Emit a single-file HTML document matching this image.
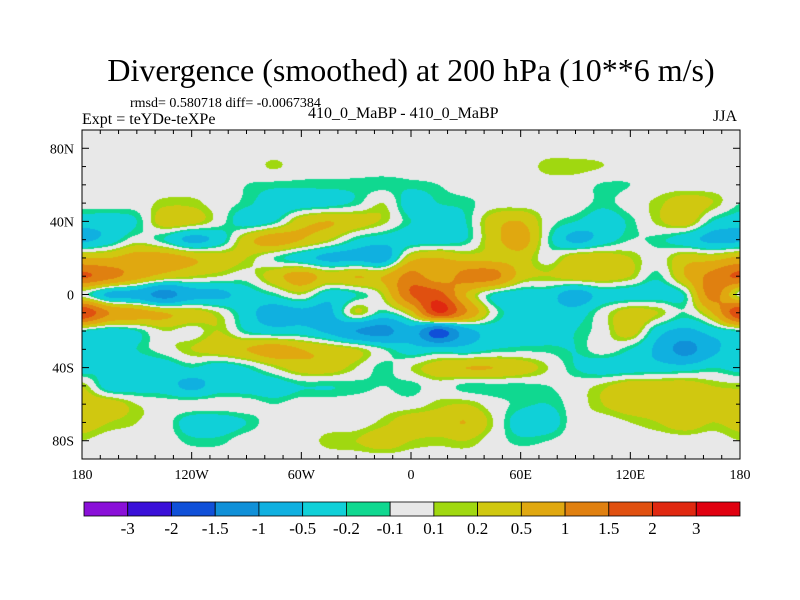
<!DOCTYPE html>
<html><head><meta charset="utf-8"><style>
body{margin:0;background:#fff;}
#wrap{position:relative;width:800px;height:600px;overflow:hidden;font-family:"Liberation Serif",serif;color:#000;}
.t{position:absolute;white-space:nowrap;}
</style></head><body>
<div id="wrap">
<div class="t" style="left:0;width:822px;text-align:center;top:52px;font-size:32px;">Divergence (smoothed) at 200 hPa (10**6 m/s)</div>
<div class="t" style="left:130px;top:96px;font-size:14px;">rmsd= 0.580718 diff= -0.0067384</div>
<div class="t" style="left:82px;top:111px;font-size:16px;">Expt = teYDe-teXPe</div>
<div class="t" style="left:308px;top:105px;font-size:16px;">410_0_MaBP - 410_0_MaBP</div>
<div class="t" style="left:713px;top:108px;font-size:16px;">JJA</div>
<canvas id="map" width="658" height="329" style="position:absolute;left:82px;top:130px;"></canvas>
<svg id="ov" width="800" height="600" style="position:absolute;left:0;top:0;"></svg>
</div>
<script>
const lonTicks=["180","120W","60W","0","60E","120E","180"];
const latTicks=["80N","40N","0","40S","80S"];
const latTickVals=[80,40,0,-40,-80];
const levels=[-3,-2,-1.5,-1,-0.5,-0.2,-0.1,0.1,0.2,0.5,1,1.5,2,3];
const levelLabels=["-3","-2","-1.5","-1","-0.5","-0.2","-0.1","0.1","0.2","0.5","1","1.5","2","3"];
const colors=["#8a10d8","#3a10d8","#1050d8","#1090d8","#10b0e0","#10d0d8","#10d890","#e8e8e8","#a0d810","#d0c810","#e0a810","#e08010","#e05010","#e02810","#e00010"];
// grid: rows lat 90..-90 step 10, cols lon -180..180 step 15
const r0=[0,0,0,0,0,0,0,0,0,0,0,0,0,0,0,0,0,0,0,0,0,0,0,0,0];
const r1=[0,0,0,0,0,0,0,0,0,0,0,0,0,0,0,0,0,0,0,0,0,0,0,0,0];
const r2=[0,0,0,0,0,0,0,0.12,0,0,0,0,0,0,0,0,0,0.15,0.15,0.1,0,0,0,0,0];
const r3=[0,0,0,0,0,0,-0.1,-0.15,-0.15,-0.15,-0.15,-0.15,-0.15,-0.1,0,0,0,0,0,-0.12,-0.1,0,0,0,0];
const r4=[0,0,0,0.15,0.15,0,-0.15,-0.35,-0.35,-0.3,-0.15,0.1,-0.35,-0.2,-0.15,0,0,0,0,-0.15,0,0.15,0.35,0.2,-0.1];
const r5=[-0.35,-0.35,-0.2,0.35,0.3,0,-0.35,-0.2,0.35,0.5,0.35,0.15,-0.2,-0.35,-0.2,0.35,0.5,0,-0.2,-0.35,-0.15,0.15,0.35,-0.2,-0.35];
const r6=[-0.6,-0.35,0,-0.2,-0.6,-0.35,0.35,0.7,0.5,0.2,-0.2,-0.35,-0.35,-0.35,-0.2,0.35,0.7,-0.1,-0.6,-0.35,-0.1,-0.15,-0.35,-0.6,-0.6];
const r7=[0.5,0.5,0.7,0.7,0.5,0.35,0.2,-0.1,-0.35,-0.6,-0.6,-0.7,0.35,0.5,0.35,0.35,0.35,0,0.35,0.35,0.2,0,0.35,0.35,0.6];
const r8=[1.6,1.2,0.7,0.35,0.2,0.1,0,0.35,0.7,0.35,0.5,0.5,1.2,0.7,1.2,1.2,0.35,0.2,0.35,0.35,0.2,-0.15,0.5,1.2,1.6];
const r9=[0,-0.6,-0.7,-1.2,-0.7,-0.6,-0.35,-0.15,0.1,-0.35,-0.2,0.2,1.5,1.7,0.5,-0.2,-0.35,-0.35,-0.7,-0.35,-0.35,-0.35,-0.15,1.2,0];
const r10=[2.0,1.0,0.7,0.5,0.35,0.1,-0.35,-0.7,-0.6,-0.6,0.2,-0.2,0.35,2.0,1.0,0,-0.35,-0.35,-0.35,0,0.35,0.2,-0.1,0.5,2.0];
const r11=[-0.2,-0.35,-0.2,0.1,0,0.2,-0.2,-0.35,-0.35,-0.6,-1.0,-1.2,-0.7,-1.7,-0.7,-0.35,-0.35,-0.35,-0.2,0,0.35,-0.35,-0.6,-0.35,-0.2];
const r12=[-0.35,-0.35,-0.2,0,0.2,0.35,0.5,0.7,0.5,0.35,0.2,-0.1,-0.35,-0.35,-0.35,-0.2,-0.15,-0.15,-0.2,0,-0.2,-0.6,-1.2,-0.6,-0.35];
const r13=[-0.35,-0.2,-0.35,-0.35,-0.2,-0.35,-0.2,0.1,0.35,0.35,0.1,-0.15,0.1,0.35,0.5,0.5,0.35,0.1,-0.2,-0.35,-0.35,-0.35,-0.35,-0.2,-0.3];
const r14=[0.2,-0.35,-0.35,-0.35,-0.6,-0.35,-0.35,-0.35,-0.2,-0.2,-0.15,-0.1,-0.15,0,-0.15,-0.15,-0.15,-0.1,0,0.15,0.35,0.35,0.35,0.2,0.15];
const r15=[0.35,0.35,0.1,0,0,0,0,-0.1,0,0,0,0,0,0.15,0.2,0,-0.15,-0.2,0,0.2,0.35,0.35,0.35,0.35,0.35];
const r16=[0.35,0.2,0.1,0,-0.35,-0.35,-0.2,0,0,0,0,0.15,0.35,0.35,0.5,0.1,-0.35,-0.35,0,0,0.1,0.2,0.35,0.2,0.3];
const r17=[0.1,0,0,0,-0.15,-0.15,0,0,0,0.15,0.2,0.35,0.2,0.15,0.2,0,-0.15,-0.1,0,0,0,0,0,0,0.1];
const r18=[0,0,0,0,0,0,0,0,0,0,0,0,0,0,0,0,0,0,0,0,0,0,0,0,0];
const grid=[r0,r1,r2,r3,r4,r5,r6,r7,r8,r9,r10,r11,r12,r13,r14,r15,r16,r17,r18];

const X0=82,X1=740,Y0=130,Y1=459;
function xOf(lon){return X0+(lon+180)/360*(X1-X0);}
function yOf(lat){return Y0+(90-lat)/180*(Y1-Y0);}
function colorOf(v){let k=0;while(k<levels.length&&v>=levels[k])k++;return colors[k];}
function cr(p0,p1,p2,p3,t){return 0.5*((2*p1)+(-p0+p2)*t+(2*p0-5*p1+4*p2-p3)*t*t+(-p0+3*p1-3*p2+p3)*t*t*t);}
function g(j,i){j=Math.max(0,Math.min(grid.length-1,j));i=Math.max(0,Math.min(grid[0].length-1,i));return grid[j][i];}
function sample(lon,lat){
  const fi=(lon+180)/15,fj=(90-lat)/10;
  const i=Math.floor(fi),j=Math.floor(fj),tx=fi-i,ty=fj-j;
  const rows=[];
  for(let a=-1;a<=2;a++){rows.push(cr(g(j+a,i-1),g(j+a,i),g(j+a,i+1),g(j+a,i+2),tx));}
  return cr(rows[0],rows[1],rows[2],rows[3],ty);
}
function hex(c){return [parseInt(c.substr(1,2),16),parseInt(c.substr(3,2),16),parseInt(c.substr(5,2),16)];}
const cv=document.getElementById('map'),ctx=cv.getContext('2d');
const W=cv.width,H=cv.height,img=ctx.createImageData(W,H);
const rgb=colors.map(hex);
for(let py=0;py<H;py++){for(let px=0;px<W;px++){
  const lon=-180+(px+0.5)/W*360,lat=90-(py+0.5)/H*180;
  const v=sample(lon,lat);let k=0;while(k<levels.length&&v>=levels[k])k++;
  const o=(py*W+px)*4;img.data[o]=rgb[k][0];img.data[o+1]=rgb[k][1];img.data[o+2]=rgb[k][2];img.data[o+3]=255;}}
ctx.putImageData(img,0,0);

const ns="http://www.w3.org/2000/svg",svg=document.getElementById('ov');
function mk(tag,at){const e=document.createElementNS(ns,tag);for(const k in at)e.setAttribute(k,at[k]);svg.appendChild(e);return e;}
const frame=mk('rect',{x:X0,y:Y0,width:X1-X0,height:Y1-Y0,fill:'none',stroke:'#000','stroke-width':1});


for(let lon=-180;lon<=180;lon+=10){const x=xOf(lon),L=(lon%60===0)?7:4;
  mk('line',{x1:x,y1:Y0,x2:x,y2:Y0+L,stroke:'#000'});mk('line',{x1:x,y1:Y1,x2:x,y2:Y1-L,stroke:'#000'});}
for(let lat=-90;lat<=90;lat+=10){const y=yOf(lat),L=(lat%40===0&&lat!==0||lat===0)?7:4;
  mk('line',{x1:X0,y1:y,x2:X0+L,y2:y,stroke:'#000'});mk('line',{x1:X1,y1:y,x2:X1-L,y2:y,stroke:'#000'});}
lonTicks.forEach((s,k)=>{const t=mk('text',{x:xOf(-180+60*k),y:Y1+20,'text-anchor':'middle','font-size':14,'font-family':'Liberation Serif, serif'});t.textContent=s;
  
  });
latTicks.forEach((s,k)=>{const t=mk('text',{x:X0-8,y:yOf(latTickVals[k])+5,'text-anchor':'end','font-size':14,'font-family':'Liberation Serif, serif'});t.textContent=s;
  
  });
// colorbar
const CB0=84,CB1=740,CY=502,CH=14,bw=(CB1-CB0)/colors.length;
colors.forEach((c,k)=>{const r=mk('rect',{x:CB0+k*bw,y:CY,width:bw,height:CH,fill:c,stroke:'#000','stroke-width':0.8});
  
  });
levelLabels.forEach((s,k)=>{const t=mk('text',{x:CB0+(k+1)*bw,y:CY+CH+18,'text-anchor':'middle','font-size':17,'font-family':'Liberation Serif, serif'});t.textContent=s;
  
  });
</script>
</body></html>
